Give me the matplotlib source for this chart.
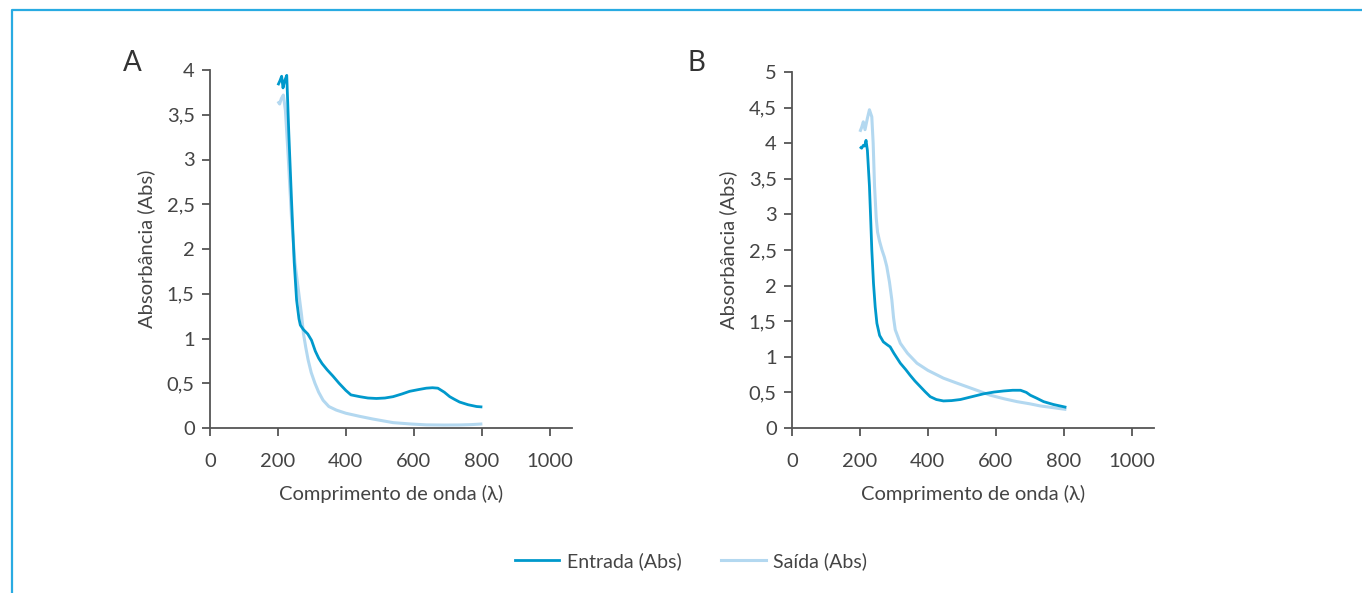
import matplotlib
matplotlib.use("Agg")
import matplotlib.pyplot as plt
from matplotlib.lines import Line2D

# ---------------- data ----------------
# Panel A
a_in_wl = [200, 206, 211, 215, 220, 226, 232, 240, 248, 255, 262, 266, 275, 288, 299, 310, 320, 330,
           345, 362, 380, 400, 415, 441, 465, 490, 515, 539, 565, 588, 615, 637, 655, 671, 690, 706, 720, 735, 760, 785, 802]
a_in_ab = [3.83, 3.88, 3.93, 3.80, 3.88, 3.94, 3.30, 2.55, 1.85, 1.43, 1.22, 1.15, 1.10, 1.05, 0.98, 0.86, 0.78, 0.72,
           0.65, 0.58, 0.50, 0.42, 0.37, 0.35, 0.335, 0.33, 0.335, 0.35, 0.38, 0.41, 0.43, 0.445, 0.45, 0.445, 0.40, 0.35, 0.32, 0.29, 0.26, 0.24, 0.235]
a_out_wl = [200, 205, 210, 216, 222, 230, 240, 250, 260, 270, 275, 282, 289, 298, 309, 320, 333, 350,
            372, 400, 441, 480, 539, 590, 637, 690, 735, 770, 802]
a_out_ab = [3.65, 3.62, 3.68, 3.72, 3.55, 3.05, 2.35, 1.85, 1.55, 1.25, 1.06, 0.90, 0.76, 0.62, 0.50, 0.40, 0.31, 0.24,
            0.20, 0.165, 0.13, 0.10, 0.06, 0.045, 0.035, 0.033, 0.034, 0.038, 0.045]

# Panel B
b_in_wl = [200, 205, 210, 214, 218, 222, 228, 232, 235, 240, 245, 250, 258, 269, 280, 289, 300, 319,
           335, 348, 362, 378, 392, 407, 425, 446, 470, 496, 530, 564, 595, 623, 650, 673, 690, 702, 720, 741, 770, 808]
b_in_ab = [3.95, 3.93, 3.97, 3.96, 4.04, 3.90, 3.40, 2.90, 2.50, 2.03, 1.70, 1.47, 1.30, 1.21, 1.17, 1.14, 1.05, 0.91,
           0.82, 0.74, 0.66, 0.58, 0.51, 0.44, 0.40, 0.38, 0.385, 0.40, 0.44, 0.48, 0.505, 0.52, 0.53, 0.53, 0.50, 0.46, 0.42, 0.37, 0.33, 0.29]
b_out_wl = [200, 205, 210, 215, 222, 228, 235, 239, 243, 248, 252, 258, 265, 272, 279, 287, 294, 299, 304,
            319, 340, 368, 400, 446, 480, 515, 550, 584, 625, 663, 700, 731, 770, 808]
b_out_ab = [4.16, 4.22, 4.30, 4.19, 4.35, 4.47, 4.37, 4.00, 3.40, 2.95, 2.75, 2.62, 2.50, 2.40, 2.27, 2.05, 1.80, 1.55, 1.38,
            1.19, 1.05, 0.91, 0.81, 0.70, 0.64, 0.58, 0.52, 0.46, 0.41, 0.37, 0.34, 0.31, 0.285, 0.26]

x_ticks = [0, 200, 400, 600, 800, 1000]
x_ticklabels = ["0", "200", "400", "600", "800", "1000"]
a_yticks = [0, 0.5, 1, 1.5, 2, 2.5, 3, 3.5, 4]
a_yticklabels = ["0", "0,5", "1", "1,5", "2", "2,5", "3", "3,5", "4"]
b_yticks = [0, 0.5, 1, 1.5, 2, 2.5, 3, 3.5, 4, 4.5, 5]
b_yticklabels = ["0", "0,5", "1", "1,5", "2", "2,5", "3", "3,5", "4", "4,5", "5"]

series_names = ["Entrada (Abs)", "Saída (Abs)"]
xlabel = "Comprimento de onda (λ)"
ylabel = "Absorbância (Abs)"

# ---------------- style ----------------
C_IN = "#0099cc"
C_OUT = "#b3d8f0"
TXT = "#444444"
SPINE = "#555555"
FAM = ["Lato", "DejaVu Sans"]
plt.rcParams["font.family"] = FAM
plt.rcParams["font.weight"] = "normal"

W, H = 1362, 593
fig = plt.figure(figsize=(W / 100, H / 100), dpi=100)

def px_axes(x0, y_top, x1, y_bot):
    return fig.add_axes([x0 / W, 1 - y_bot / H, (x1 - x0) / W, (y_bot - y_top) / H])

axA = px_axes(210, 70, 572, 428)
axB = px_axes(792, 72, 1154, 428)

def style(ax, yticks, yticklabels, ymax):
    ax.set_xlim(0, 1066)
    ax.set_ylim(0, ymax)
    for s in ["top", "right"]:
        ax.spines[s].set_visible(False)
    for s in ["left", "bottom"]:
        ax.spines[s].set_color(SPINE)
        ax.spines[s].set_linewidth(1.3)
    ax.set_xticks(x_ticks)
    ax.set_xticklabels(x_ticklabels)
    ax.set_yticks(yticks)
    ax.set_yticklabels(yticklabels)
    ax.tick_params(axis="both", direction="out", length=6, width=1.3, color=SPINE,
                   labelsize=14.5, labelcolor=TXT)
    ax.tick_params(axis="x", pad=12)
    ax.tick_params(axis="y", pad=5)
    ax.set_xlabel(xlabel, fontsize=14.5, color=TXT, labelpad=11)
    ax.set_ylabel(ylabel, fontsize=14.5, color=TXT, labelpad=8)
    ax.patch.set_alpha(0)

axA.plot(a_out_wl, a_out_ab, color=C_OUT, lw=2.2, solid_capstyle="butt", zorder=2)
axA.plot(a_in_wl, a_in_ab, color=C_IN, lw=2.0, solid_capstyle="butt", zorder=3)
axB.plot(b_out_wl, b_out_ab, color=C_OUT, lw=2.2, solid_capstyle="butt", zorder=2)
axB.plot(b_in_wl, b_in_ab, color=C_IN, lw=2.0, solid_capstyle="butt", zorder=3)

style(axA, a_yticks, a_yticklabels, 4)
style(axB, b_yticks, b_yticklabels, 5)

fig.text(123 / W, 1 - 63 / H, "A", fontsize=20, color="#333333", va="center", ha="left")
fig.text(688 / W, 1 - 63 / H, "B", fontsize=20, color="#333333", va="center", ha="left")

# legend
handles = [Line2D([], [], color=C_IN, lw=2.0), Line2D([], [], color=C_OUT, lw=2.2)]
leg = fig.legend(handles, series_names, loc="center", bbox_to_anchor=(691 / W, 1 - 561 / H),
                 ncol=2, frameon=False, fontsize=14, handlelength=2.3, handletextpad=0.4,
                 columnspacing=2.0)
for t in leg.get_texts():
    t.set_color(TXT)

# border frame (top and left)
fig.add_artist(Line2D([12 / W, 12 / W, 1.0], [0.0, 1 - 10 / H, 1 - 10 / H],
                      transform=fig.transFigure, color="#29abe2", lw=1.6))

fig.savefig("out.png", dpi=100)
